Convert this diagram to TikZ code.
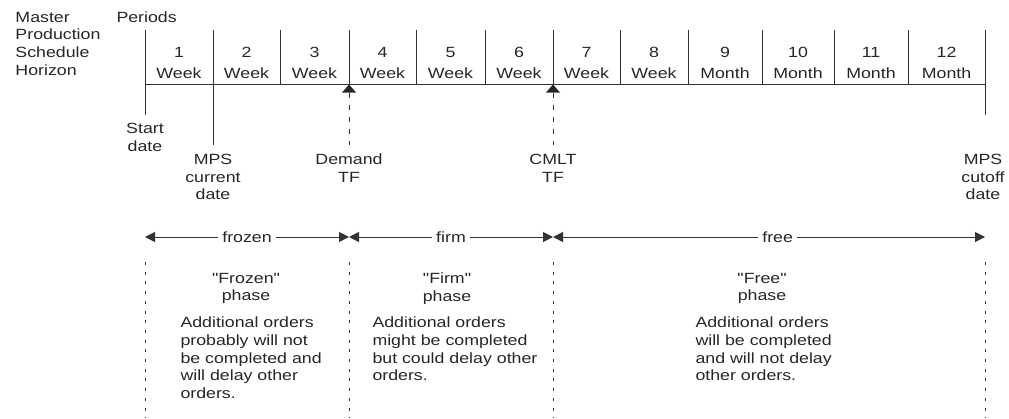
\documentclass[tikz,border=0pt]{standalone}
\usepackage{fontspec}
\setmainfont{Liberation Sans}[FakeStretch=1.2, Ligatures=TeXOff]
\usetikzlibrary{arrows.meta}
\begin{document}
\begin{tikzpicture}[x=1pt,y=-1pt,
  line width=1pt, draw=black!80,
  every node/.style={inner sep=0pt, text=black!85, font=\fontsize{14.8}{17.7}\selectfont},
  lbl/.style={anchor=north, align=center},
  blk/.style={anchor=north west, align=left},
  tick/.style={draw=black!80, line width=1pt},
  marker/.style={draw=black!80, line width=1pt, dash pattern=on 5pt off 7pt},
  phaseline/.style={draw=black!80, line width=1pt, dash pattern=on 3pt off 6.7pt},
  span/.style={draw=black!80, line width=1pt, {Triangle[length=10pt,width=10pt]}-{Triangle[length=10pt,width=10pt]}},
  spanlbl/.style={fill=white, inner xsep=4pt, inner ysep=2pt}
]
\useasboundingbox (0,0) rectangle (1009,418);

% tick coordinates
\foreach \i/\x in {0/145,1/213,2/280,3/349,4/416,5/485,6/553,7/620,8/688,9/762,10/834,11/908,12/985}{
  \coordinate (t\i) at (\x,30);
  \coordinate (b\i) at (\x,84.5);
}
\coordinate (s0) at (145,115);
\coordinate (s1) at (213,145);
\coordinate (s12) at (985,115);

% labels on the left
\node[blk] (mph) at (15,11.5) {Master\\Production\\Schedule\\Horizon};
\node[anchor=north west] (per) at (116,11.5) {Periods};

% timeline
\draw[tick] (b0) -- (b12);
\draw[tick] (t0) -- (s0);
\draw[tick] (t1) -- (s1);
\draw[tick] (t12) -- (s12);
\foreach \i in {2,...,11}{ \draw[tick] (t\i) -- (b\i); }

% period cells
\foreach \i/\a/\b/\u in {1/0/1/Week,2/1/2/Week,3/2/3/Week,4/3/4/Week,5/4/5/Week,6/5/6/Week,7/6/7/Week,8/7/8/Week,9/8/9/Month,10/9/10/Month,11/10/11/Month,12/11/12/Month}{
  \path (t\a) -- (t\b) coordinate[pos=0.5] (m\i);
  \node[anchor=base] (n\i) at ([yshift=-27pt]m\i) {\i};
  \node[anchor=base] (w\i) at ([yshift=-48.5pt]m\i) {\u};
}

% time fence markers
\foreach \i in {3,6}{
  \fill[black!85] (b\i) -- ++(-7,8) -- ++(14,0) -- cycle;
  \coordinate (d\i) at ([yshift=-8pt]b\i);
  \coordinate (e\i) at (b\i |- 0,145);
  \draw[marker] (d\i) -- (e\i);
}

% date labels
\node[lbl] (start) at (145,122.5) {Start\\date};
\node[lbl] (cur) at (213,153.5) {MPS\\current\\date};
\node[lbl] (dtf) at (349,153.5) {Demand\\TF};
\node[lbl] (ctf) at (553,153.5) {CMLT\\TF};
\node[lbl] (cut) at (983,153.5) {MPS\\cutoff\\date};

% phase spans
\coordinate (p0) at (145,237);
\coordinate (p1) at (349,237);
\coordinate (p2) at (553,237);
\coordinate (p3) at (985,237);
\draw[span] (p0) -- (p1) node[pos=0.5, spanlbl] (frz) {frozen};
\draw[span] (p1) -- (p2) node[pos=0.5, spanlbl] (frm) {firm};
\draw[span] (p2) -- (p3) node[pos=0.52, spanlbl] (fre) {free};

% phase dashed boundaries
\foreach \x/\n in {145/0,349/1,553/2,985/3}{
  \coordinate (q\n) at (\x,262);
  \coordinate (r\n) at (\x,418);
  \draw[phaseline] (q\n) -- (r\n);
}

% phase texts
\node[lbl] (frzt) at (246,272.5) {"Frozen"\\phase};
\node[blk] (frzd) at (180,316.5) {Additional orders\\probably will not\\be completed and\\will delay other\\orders.};
\node[lbl] (frmt) at (447,272.5) {"Firm"\\phase};
\node[blk] (frmd) at (372,316.5) {Additional orders\\might be completed\\but could delay other\\orders.};
\node[lbl] (fret) at (762,272.5) {"Free"\\phase};
\node[blk] (fred) at (695,316.5) {Additional orders\\will be completed\\and will not delay\\other orders.};
\end{tikzpicture}
\end{document}
